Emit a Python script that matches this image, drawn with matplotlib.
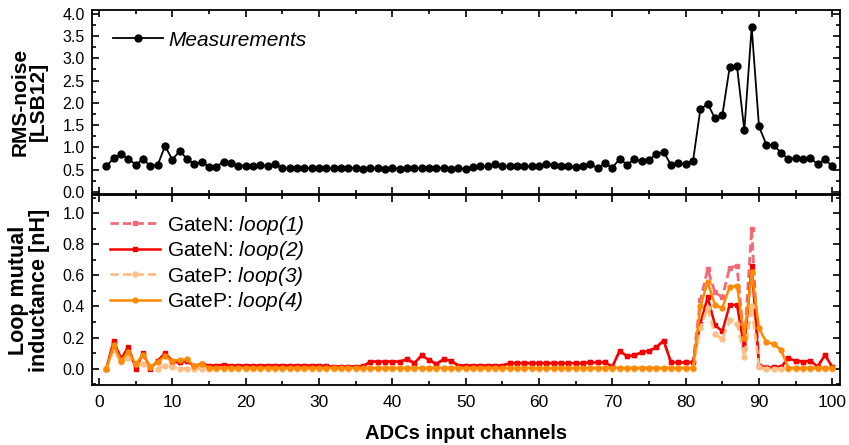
import numpy as np
import matplotlib
matplotlib.use("Agg")
import matplotlib.pyplot as plt
from matplotlib.ticker import MultipleLocator

plt.rcParams['font.family'] = ['Liberation Sans', 'DejaVu Sans']
plt.rcParams['mathtext.fontset'] = 'custom'
plt.rcParams['mathtext.rm'] = 'Liberation Sans:italic'
plt.rcParams['mathtext.it'] = 'Liberation Sans:italic'

channels = np.arange(1, 101)

# RMS noise per channel [LSB12]
rms_noise = [
    0.57, 0.76, 0.84, 0.74, 0.61, 0.73, 0.58, 0.60, 1.03, 0.72,
    0.92, 0.74, 0.62, 0.68, 0.56, 0.56, 0.68, 0.64, 0.59, 0.59,
    0.59, 0.60, 0.59, 0.62, 0.53, 0.53, 0.53, 0.53, 0.53, 0.53,
    0.53, 0.53, 0.54, 0.54, 0.53, 0.52, 0.53, 0.53, 0.52, 0.53,
    0.52, 0.53, 0.53, 0.54, 0.53, 0.54, 0.53, 0.52, 0.53, 0.51,
    0.56, 0.57, 0.57, 0.62, 0.57, 0.57, 0.57, 0.57, 0.57, 0.57,
    0.62, 0.61, 0.59, 0.58, 0.56, 0.59, 0.62, 0.53, 0.64, 0.54,
    0.74, 0.61, 0.73, 0.69, 0.72, 0.85, 0.90, 0.60, 0.64, 0.63,
    0.69, 1.85, 1.98, 1.65, 1.72, 2.80, 2.82, 1.38, 3.70, 1.47,
    1.06, 1.05, 0.88, 0.73, 0.76, 0.73, 0.76, 0.62, 0.73, 0.57,
]

# loop mutual inductance [nH]
loop1 = [
    0.00, 0.17, 0.07, 0.13, 0.01, 0.09, 0.01, 0.05, 0.09, 0.04,
    0.04, 0.05, 0.015, 0.03, 0.02, 0.02, 0.02, 0.02, 0.02, 0.02,
    0.02, 0.02, 0.02, 0.02, 0.02, 0.02, 0.02, 0.02, 0.02, 0.02,
    0.015, 0.013, 0.013, 0.013, 0.013, 0.015, 0.045, 0.045, 0.045, 0.045,
    0.045, 0.06, 0.035, 0.085, 0.055, 0.03, 0.06, 0.05, 0.02, 0.02,
    0.02, 0.02, 0.02, 0.02, 0.02, 0.035, 0.035, 0.035, 0.035, 0.035,
    0.035, 0.035, 0.035, 0.035, 0.035, 0.035, 0.04, 0.04, 0.04, 0.013,
    0.114, 0.08, 0.085, 0.105, 0.114, 0.137, 0.18, 0.04, 0.04, 0.04,
    0.04, 0.44, 0.64, 0.49, 0.46, 0.65, 0.66, 0.16, 0.90, 0.02,
    0.01, 0.01, 0.01, 0.066, 0.05, 0.045, 0.05, 0.013, 0.088, 0.01,
]
loop2 = [
    0.00, 0.18, 0.06, 0.14, 0.00, 0.10, 0.00, 0.05, 0.10, 0.05,
    0.04, 0.05, 0.015, 0.03, 0.02, 0.02, 0.025, 0.02, 0.02, 0.02,
    0.02, 0.02, 0.02, 0.02, 0.02, 0.02, 0.02, 0.02, 0.02, 0.02,
    0.015, 0.013, 0.013, 0.013, 0.013, 0.015, 0.045, 0.045, 0.045, 0.045,
    0.045, 0.06, 0.035, 0.085, 0.055, 0.03, 0.06, 0.05, 0.02, 0.02,
    0.02, 0.02, 0.02, 0.02, 0.02, 0.035, 0.035, 0.035, 0.035, 0.035,
    0.035, 0.035, 0.035, 0.035, 0.035, 0.035, 0.04, 0.04, 0.04, 0.013,
    0.114, 0.08, 0.085, 0.105, 0.114, 0.137, 0.18, 0.04, 0.04, 0.04,
    0.04, 0.29, 0.46, 0.28, 0.24, 0.41, 0.41, 0.13, 0.66, 0.02,
    0.005, 0.01, 0.01, 0.066, 0.05, 0.045, 0.05, 0.013, 0.088, 0.01,
]
loop3 = [
    0.00, 0.12, 0.04, 0.07, 0.03, 0.03, 0.01, 0.00, 0.02, 0.01,
    0.00, 0.00, 0.00, 0.00, 0.00, 0.00, 0.00, 0.00, 0.00, 0.00,
    0.00, 0.00, 0.00, 0.00, 0.00, 0.00, 0.00, 0.00, 0.00, 0.00,
    0.00, 0.00, 0.00, 0.00, 0.00, 0.00, 0.00, 0.00, 0.00, 0.00,
    0.00, 0.00, 0.00, 0.00, 0.00, 0.00, 0.00, 0.00, 0.00, 0.00,
    0.00, 0.00, 0.00, 0.00, 0.00, 0.00, 0.00, 0.00, 0.00, 0.00,
    0.00, 0.00, 0.00, 0.00, 0.00, 0.00, 0.00, 0.00, 0.00, 0.00,
    0.00, 0.00, 0.00, 0.00, 0.00, 0.00, 0.00, 0.00, 0.00, 0.00,
    0.00, 0.26, 0.39, 0.22, 0.19, 0.31, 0.29, 0.077, 0.40, 0.01,
    0.00, 0.00, 0.00, 0.00, 0.00, 0.00, 0.00, 0.00, 0.00, 0.00,
]
loop4 = [
    0.00, 0.15, 0.05, 0.11, 0.03, 0.09, 0.01, 0.045, 0.08, 0.05,
    0.055, 0.06, 0.015, 0.03, 0.005, 0.005, 0.005, 0.005, 0.005, 0.005,
    0.005, 0.005, 0.005, 0.005, 0.005, 0.005, 0.005, 0.005, 0.005, 0.005,
    0.005, 0.005, 0.005, 0.005, 0.005, 0.005, 0.005, 0.005, 0.005, 0.005,
    0.005, 0.005, 0.005, 0.005, 0.005, 0.005, 0.005, 0.005, 0.005, 0.005,
    0.005, 0.005, 0.005, 0.005, 0.005, 0.005, 0.005, 0.005, 0.005, 0.005,
    0.005, 0.005, 0.005, 0.005, 0.005, 0.005, 0.005, 0.005, 0.005, 0.005,
    0.005, 0.005, 0.005, 0.005, 0.005, 0.005, 0.005, 0.005, 0.005, 0.005,
    0.005, 0.40, 0.556, 0.41, 0.39, 0.526, 0.534, 0.20, 0.62, 0.26,
    0.17, 0.16, 0.12, 0.005, 0.005, 0.005, 0.005, 0.005, 0.005, 0.005,
]

fig = plt.figure(figsize=(8.49, 4.45), dpi=100)
ax1 = fig.add_axes([0.108, 0.564, 0.881, 0.414])
ax2 = fig.add_axes([0.108, 0.135, 0.881, 0.427])


def style_axis(ax):
    ax.tick_params(which='both', direction='in', top=True, right=True,
                   width=1.2)
    ax.tick_params(axis='y', labelsize=11.5, pad=5)
    ax.tick_params(axis='x', labelsize=12.5, pad=7)
    ax.tick_params(which='major', length=5)
    ax.tick_params(which='minor', length=3)
    for s in ax.spines.values():
        s.set_linewidth(1.3)
    ax.set_xlim(-1, 101)
    ax.xaxis.set_major_locator(MultipleLocator(10))
    ax.xaxis.set_minor_locator(MultipleLocator(5))


ax1.plot(channels, rms_noise, '-o', color='black', lw=1.3, ms=5,
         label='Measurements')
style_axis(ax1)
ax1.set_ylim(-0.05, 4.09)
ax1.yaxis.set_major_locator(MultipleLocator(0.5))
ax1.yaxis.set_minor_locator(MultipleLocator(0.25))
ax1.yaxis.set_major_formatter('{x:.1f}')
ax1.tick_params(labelbottom=False)
ax1.set_ylabel('RMS-noise\n[LSB12]', fontsize=15, fontweight='bold',
               linespacing=1.0)
ax1.yaxis.set_label_coords(-0.058, 0.5)
ax1.legend(loc='upper left', frameon=False,
           prop={'style': 'italic', 'size': 15}, handlelength=2.4,
           handletextpad=0.3, borderaxespad=0.55, borderpad=0.45)

ax2.plot(channels, loop1, '--s', color='#F26A78', lw=2, ms=3.5,
         dashes=(3, 1.5), label=r'GateN: $loop(1)$')
ax2.plot(channels, loop2, '-s', color='#F40000', lw=1.8, ms=3.5,
         label=r'GateN: $loop(2)$')
ax2.plot(channels, loop3, '--o', color='#FFBE84', lw=2, ms=3.5,
         dashes=(3, 1.5), label=r'GateP: $loop(3)$')
ax2.plot(channels, loop4, '-o', color='#FF8A00', lw=1.8, ms=3.5,
         label=r'GateP: $loop(4)$')
style_axis(ax2)
ax2.set_ylim(-0.105, 1.118)
ax2.yaxis.set_major_locator(MultipleLocator(0.2))
ax2.yaxis.set_minor_locator(MultipleLocator(0.1))
ax2.yaxis.set_major_formatter('{x:.1f}')
ax2.set_ylabel('Loop mutual\ninductance [nH]', fontsize=15.5,
               fontweight='bold', linespacing=1.0)
ax2.yaxis.set_label_coords(-0.056, 0.5)
ax2.set_xlabel('ADCs input channels', fontsize=14.5, fontweight='bold',
               labelpad=10)
ax2.legend(loc='upper left', frameon=False, fontsize=15, handlelength=2.4,
           handletextpad=0.3, labelspacing=0.12, borderaxespad=0.55,
           borderpad=0.35)

fig.savefig('out.png', dpi=100)
